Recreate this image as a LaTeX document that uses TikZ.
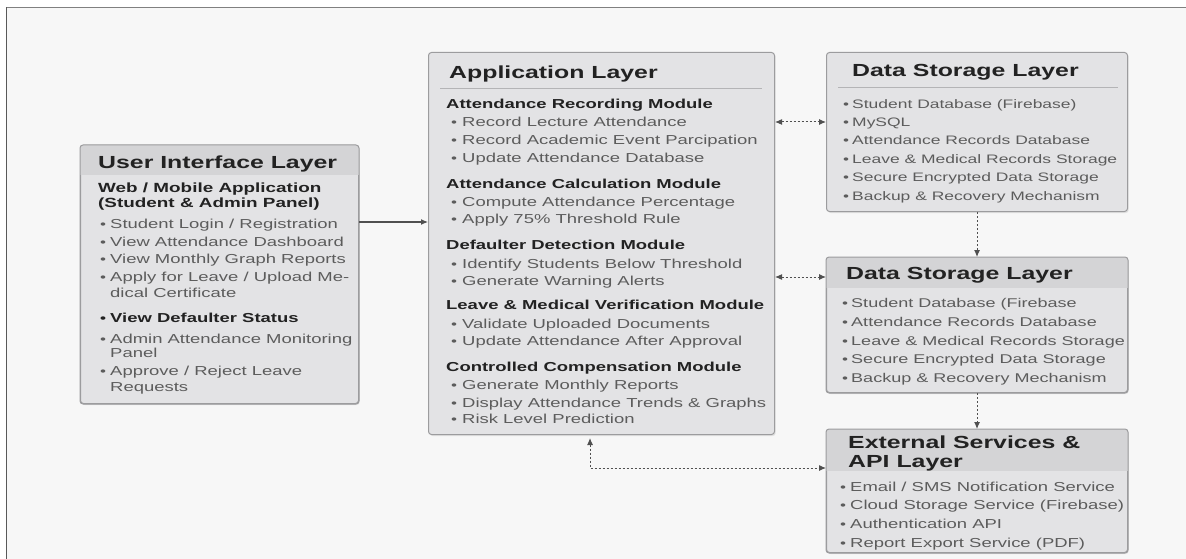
\documentclass[tikz,border=0pt]{standalone}
\usepackage{fontspec}
\setmainfont{Liberation Sans}[FakeStretch=1.42]
\usetikzlibrary{arrows.meta,shadows}

\definecolor{pagebg}{HTML}{F7F7F7}
\definecolor{boxfill}{HTML}{E3E3E5}
\definecolor{headfill}{HTML}{D4D4D6}
\definecolor{boxline}{HTML}{9C9C9E}
\definecolor{sepline}{HTML}{B4B4B6}
\definecolor{ink}{HTML}{222222}
\definecolor{itemink}{HTML}{5C5C5C}
\definecolor{wire}{HTML}{505050}

\tikzset{
  layerbox/.style={draw=boxline, line width=1pt, fill=boxfill, rounded corners=3pt,
    inner sep=0pt, anchor=north west,
    drop shadow={opacity=0.18, shadow xshift=1.2pt, shadow yshift=-1.5pt}},
  ltitle/.style={font=\fontsize{17.5}{20}\selectfont\bfseries, text=ink, anchor=base west, inner sep=0pt},
  modh/.style={font=\fontsize{13}{15}\selectfont\bfseries, text=ink, anchor=base west, inner sep=0pt},
  itm/.style={font=\fontsize{13}{15}\selectfont, text=itemink, anchor=base west, inner sep=0pt},
  itms/.style={font=\fontsize{12.3}{14}\selectfont, text=itemink, anchor=base west, inner sep=0pt},
  bul/.style={font=\fontsize{12}{14}\selectfont, text=itemink, anchor=base, inner sep=0pt},
  solidarrow/.style={draw=wire, line width=1.1pt, -{Latex[length=7pt,width=6pt]}},
  dotarrow/.style={draw=wire, line width=1pt, dash pattern=on 2pt off 2pt,
    -{Latex[length=7pt,width=6pt]}},
  dotboth/.style={dotarrow, {Latex[length=7pt,width=6pt]}-{Latex[length=7pt,width=6pt]}},
}

% header band clipped to the rounded box, border redrawn on top
\newcommand\headband[2]{%
  \begin{scope}
    \clip[rounded corners=3pt] (#1.north west) rectangle (#1.south east);
    \fill[headfill] (#1.north west) rectangle ([yshift=-#2]#1.north east);
  \end{scope}
  \draw[boxline, line width=1pt, rounded corners=3pt] (#1.north west) rectangle (#1.south east);
}

\begin{document}
\begin{tikzpicture}[x=1pt,y=-1pt]
\useasboundingbox (0,0) rectangle (1186,559);
\fill[white] (0,0) rectangle (1186,559);
\fill[pagebg] (6.5,7.5) rectangle (1186,559);
\draw[color=black!65, line width=1.5pt] (6.5,7.5) -- (6.5,559);
\draw[color=black!50, line width=1.2pt] (6.5,7.5) -- (1186,7.5);

% ---------- boxes ----------
\node[layerbox, minimum width=278pt, minimum height=258pt] (ui)  at (80,145) {};
\node[layerbox, minimum width=346pt, minimum height=382pt] (app) at (428,52) {};
\node[layerbox, minimum width=301pt, minimum height=159pt] (ds1) at (826,52) {};
\node[layerbox, minimum width=301pt, minimum height=135pt] (ds2) at (826,257) {};
\node[layerbox, minimum width=301pt, minimum height=123pt] (ext) at (826,429) {};

\headband{ui}{30pt}
\headband{ds2}{31pt}
\headband{ext}{42pt}
\draw[sepline, line width=0.8pt] (440,88) -- (762,88);
\draw[sepline, line width=0.8pt] (838,87) -- (1118,87);

% ---------- User Interface Layer ----------
\node[ltitle] (uit) at (98,168) {User Interface Layer};
\node[modh, font=\fontsize{13.3}{15}\selectfont\bfseries] (uis1) at (98,192.6) {Web / Mobile Application};
\node[modh, font=\fontsize{13.3}{15}\selectfont\bfseries] (uis2) at (98,207.6) {(Student \& Admin Panel)};
\foreach \nm/\y/\t in {u1/228.6/{Student Login / Registration},
                        u2/246.6/{View Attendance Dashboard},
                        u3/263.6/{View Monthly Graph Reports},
                        u4/281.6/{Apply for Leave / Upload Me-},
                        u6/343.6/{Admin Attendance Monitoring},
                        u7/375.6/{Approve / Reject Leave}} {
  \node[bul] (\nm b) at (103,\y) {\textbullet};
  \node[itm] (\nm) at (110,\y) {\t};
}
\node[itm] (u4c) at (110,297.6) {dical Certificate};
\node[bul, font=\fontsize{12}{14}\selectfont\bfseries, text=ink] (u5b) at (103,322.6) {\textbullet};
\node[modh] (u5) at (110,322.6) {View Defaulter Status};
\node[itm] (u6c) at (110,357.6) {Panel};
\node[itm] (u7c) at (110,391.6) {Requests};

% ---------- Application Layer ----------
\node[ltitle] (appt) at (449,78.5) {Application Layer};
\node[modh] (m1) at (446,108.6) {Attendance Recording Module};
\node[modh] (m2) at (446,188.6) {Attendance Calculation Module};
\node[modh] (m3) at (446,249.6) {Defaulter Detection Module};
\node[modh] (m4) at (446,309.6) {Leave \& Medical Verification Module};
\node[modh] (m5) at (446,371.6) {Controlled Compensation Module};
\foreach \nm/\y/\t in {a1/126.6/{Record Lecture Attendance},
                        a2/144.6/{Record Academic Event Parcipation},
                        a3/162.6/{Update Attendance Database},
                        a4/206.6/{Compute Attendance Percentage},
                        a5/223.6/{Apply 75\% Threshold Rule},
                        a6/268.6/{Identify Students Below Threshold},
                        a7/285.6/{Generate Warning Alerts},
                        a8/328.6/{Validate Uploaded Documents},
                        a9/345.6/{Update Attendance After Approval},
                        a10/389.6/{Generate Monthly Reports},
                        a11/407.6/{Display Attendance Trends \& Graphs},
                        a12/423.6/{Risk Level Prediction}} {
  \node[bul] (\nm b) at (454,\y) {\textbullet};
  \node[itm] (\nm) at (462,\y) {\t};
}

% ---------- Data Storage Layer (upper) ----------
\node[ltitle] (d1t) at (852,76.2) {Data Storage Layer};
\foreach \nm/\y/\t in {p1/108.4/{Student Database (Firebase)},
                        p2/126.4/{MySQL},
                        p3/144.4/{Attendance Records Database},
                        p4/163.4/{Leave \& Medical Records Storage},
                        p5/181.4/{Secure Encrypted Data Storage},
                        p6/200.4/{Backup \& Recovery Mechanism}} {
  \node[bul] (\nm b) at (846,\y) {\textbullet};
  \node[itms] (\nm) at (852,\y) {\t};
}

% ---------- Data Storage Layer (lower) ----------
\node[ltitle] (d2t) at (846,279) {Data Storage Layer};
\foreach \nm/\y/\t in {q1/307.5/{Student Database (Firebase},
                        q2/326.5/{Attendance Records Database},
                        q3/345.5/{Leave \& Medical Records Storage},
                        q4/363.5/{Secure Encrypted Data Storage},
                        q5/382.5/{Backup \& Recovery Mechanism}} {
  \node[bul] (\nm b) at (845,\y) {\textbullet};
  \node[itm, font=\fontsize{12.7}{14}\selectfont] (\nm) at (851,\y) {\t};
}

% ---------- External Services & API Layer ----------
\node[ltitle] (ext1) at (848,448.2) {External Services \&};
\node[ltitle] (ext2) at (848,467.2) {API Layer};
\foreach \nm/\y/\t in {e1/491.6/{Email / SMS Notification Service},
                        e2/509.6/{Cloud Storage Service (Firebase)},
                        e3/528.6/{Authentication API},
                        e4/547.6/{Report Export Service (PDF)}} {
  \node[bul] (\nm b) at (843,\y) {\textbullet};
  \node[itm] (\nm) at (850,\y) {\t};
}

% ---------- connectors ----------
\coordinate (rowA) at (0,222);
\coordinate (rowB) at (0,122);
\coordinate (rowC) at (0,277);
\coordinate (bend) at (590,468);
\draw[solidarrow] (ui.east |- rowA) -- (app.west |- rowA);
\draw[dotboth] (app.east |- rowB) -- (ds1.west |- rowB);
\draw[dotboth] (app.east |- rowC) -- (ds2.west |- rowC);
\draw[dotarrow] (ds1.south) -- (ds2.north);
\draw[dotarrow] (ds2.south) -- (ext.north);
\draw[dotboth, shorten <=3pt] (app.south -| bend) -- (bend) -- (ext.west |- bend);
\end{tikzpicture}
\end{document}
